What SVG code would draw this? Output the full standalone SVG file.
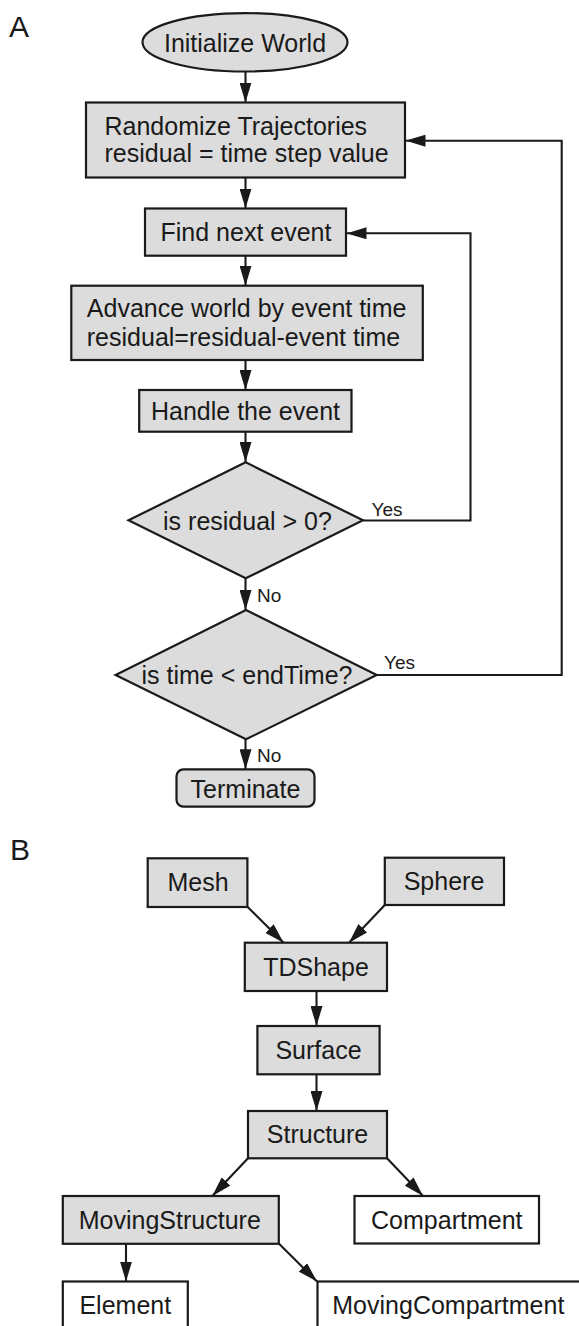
<svg xmlns="http://www.w3.org/2000/svg" width="579" height="1326" viewBox="0 0 579 1326">
<style>
text{font-family:"Liberation Sans",Arial,Helvetica,sans-serif;fill:#1a1a1a}
.t{font-size:25px}
.c{text-anchor:middle}
.lbl{font-size:19px}
.panel{font-size:30px}
.box{fill:#dcdcdc;stroke:#1a1a1a;stroke-width:2.2}
.wbox{fill:#ffffff;stroke:#1a1a1a;stroke-width:2.2}
.edge{fill:none;stroke:#1a1a1a;stroke-width:2.1;marker-end:url(#ah)}
</style>
<defs>
<marker id="ah" markerUnits="userSpaceOnUse" markerWidth="20" markerHeight="12" refX="20" refY="6" orient="auto" viewBox="0 0 20 12">
<path d="M0,0 L20,6 L0,12 z" fill="#1a1a1a"/>
</marker>
</defs>
<rect width="579" height="1326" fill="#ffffff"/>
<text class="panel" x="9" y="37">A</text>
<text class="panel" x="10" y="860">B</text>
<g id="connectors">
<line class="edge" x1="245.5" y1="71.5" x2="245.5" y2="102.5"/>
<line class="edge" x1="245.5" y1="177.5" x2="245.5" y2="208.5"/>
<line class="edge" x1="245.5" y1="255.7" x2="245.5" y2="285.7"/>
<line class="edge" x1="245.5" y1="360" x2="245.5" y2="390"/>
<line class="edge" x1="245.5" y1="431.7" x2="245.5" y2="462"/>
<line class="edge" x1="245.5" y1="578.3" x2="245.5" y2="610"/>
<line class="edge" x1="245.5" y1="739.3" x2="245.5" y2="769.3"/>
<polyline class="edge" points="363,520.5 470.5,520.5 470.5,233.3 346.5,233.3"/>
<polyline class="edge" points="376.7,675 561.7,675 561.7,140.7 405.5,140.7"/>
<line class="edge" x1="247.4" y1="906.7" x2="283.6" y2="942.7"/>
<line class="edge" x1="384.8" y1="905" x2="349" y2="942.7"/>
<line class="edge" x1="316.5" y1="991" x2="316.5" y2="1026"/>
<line class="edge" x1="316.5" y1="1074.3" x2="316.5" y2="1111"/>
<line class="edge" x1="248" y1="1158.3" x2="212.3" y2="1196"/>
<line class="edge" x1="387" y1="1158.3" x2="423" y2="1196"/>
<line class="edge" x1="126" y1="1244" x2="126" y2="1281.5"/>
<line class="edge" x1="278.8" y1="1243.5" x2="317" y2="1281.5"/>
<text class="lbl" x="371.5" y="516">Yes</text>
<text class="lbl" x="384" y="669">Yes</text>
<text class="lbl" x="257" y="601.5">No</text>
<text class="lbl" x="257" y="761.5">No</text>
</g>
<g id="init">
<ellipse class="box" cx="245" cy="42.3" rx="102.5" ry="29.2"/>
<text class="t c" x="245" y="51.5">Initialize World</text>
</g>
<g id="randomize">
<rect class="box" x="86" y="102.5" width="319" height="75"/>
<text class="t" x="104.5" y="135">Randomize Trajectories</text>
<text class="t" x="104.5" y="162.3">residual = time step value</text>
</g>
<g id="findnext">
<rect class="box" x="145" y="208.5" width="201" height="47.2"/>
<text class="t c" x="246" y="240.5">Find next event</text>
</g>
<g id="advance">
<rect class="box" x="71.3" y="285.7" width="351.5" height="74.3"/>
<text class="t" x="86.8" y="316.7">Advance world by event time</text>
<text class="t" x="86.8" y="346">residual=residual-event time</text>
</g>
<g id="handle">
<rect class="box" x="139.2" y="390" width="212.3" height="41.7"/>
<text class="t c" x="245.5" y="419.5">Handle the event</text>
</g>
<g id="residual">
<polygon class="box" points="245.7,462.3 363,520.3 245.7,578.3 128.5,520.3"/>
<text class="t c" x="247.5" y="529.5">is residual &gt; 0?</text>
</g>
<g id="endtime">
<polygon class="box" points="246,610 376.7,675 246,739.3 115.6,675"/>
<text class="t c" x="247" y="683.8">is time &lt; endTime?</text>
</g>
<g id="terminate">
<rect class="box" x="176.5" y="769.3" width="138" height="37.4" rx="7" ry="7"/>
<text class="t c" x="245.5" y="797.5">Terminate</text>
</g>
<g id="mesh">
<rect class="box" x="147.7" y="858.3" width="99.7" height="48.7"/>
<text class="t c" x="198" y="890.5">Mesh</text>
</g>
<g id="sphere">
<rect class="box" x="384.8" y="857.7" width="119.2" height="47.3"/>
<text class="t c" x="444" y="890">Sphere</text>
</g>
<g id="tdshape">
<rect class="box" x="244.8" y="942.7" width="142.2" height="48.3"/>
<text class="t c" x="316" y="975.5">TDShape</text>
</g>
<g id="surface">
<rect class="box" x="257.4" y="1026" width="122.2" height="48.3"/>
<text class="t c" x="318.5" y="1058.8">Surface</text>
</g>
<g id="structure">
<rect class="box" x="248" y="1111" width="139" height="47.3"/>
<text class="t c" x="317.5" y="1143.3">Structure</text>
</g>
<g id="movingstructure">
<rect class="box" x="62.8" y="1196" width="216" height="47.8"/>
<text class="t c" x="169.8" y="1228.5">MovingStructure</text>
</g>
<g id="compartment">
<rect class="wbox" x="354.5" y="1196" width="184.5" height="47.5"/>
<text class="t c" x="446.8" y="1228.5">Compartment</text>
</g>
<g id="element">
<rect class="wbox" x="62.8" y="1281.5" width="125" height="47.5"/>
<text class="t c" x="125.3" y="1313.5">Element</text>
</g>
<g id="movingcompartment">
<rect class="wbox" x="317.5" y="1281.5" width="263" height="47.5"/>
<text class="t" x="332.3" y="1313.5">MovingCompartment</text>
</g>
</svg>
